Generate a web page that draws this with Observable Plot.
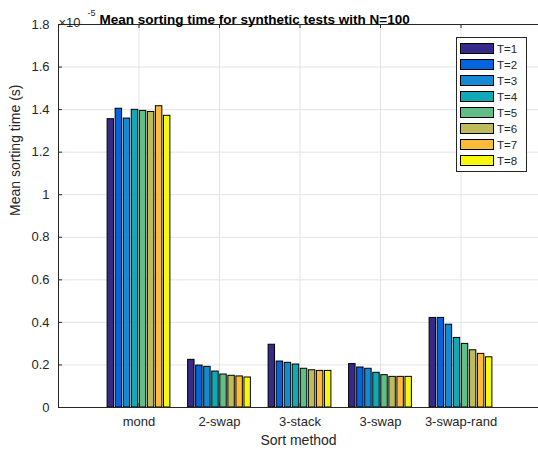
<!DOCTYPE html>
<html>
<head>
<meta charset="utf-8">
<script src="https://cdn.jsdelivr.net/npm/d3@7"></script>
<script src="https://cdn.jsdelivr.net/npm/@observablehq/plot@0.6"></script>
<style>
  html, body { margin: 0; padding: 0; background: #fff; }
  #wrap { position: relative; width: 538px; height: 452px; overflow: hidden; font-family: "Liberation Sans", Arial, sans-serif; color: #262626; }
  #legend { position: absolute; left: 456px; top: 37px; width: 71px; height: 135px; border: 1px solid #262626; background: #fff; box-sizing: border-box; }
  .row { position: absolute; left: 3px; height: 11px; display: flex; align-items: center; font-size: 11.5px; }
  .sw { width: 34px; height: 11px; border: 1px solid #000; box-sizing: border-box; margin-right: 3px; }
</style>
</head>
<body>
<div id="wrap"></div>
<script>
const categories = ["mond", "2-swap", "3-stack", "3-swap", "3-swap-rand"];
const seriesNames = ["T=1", "T=2", "T=3", "T=4", "T=5", "T=6", "T=7", "T=8"];
const seriesColors = ["#352a87", "#0364de", "#138ad3", "#10aab6", "#62be86", "#bdbb5b", "#fdbb3c", "#f8f80f"];
// values in units of 1e-5 s, one array per sort method (T=1..T=8)
const mond     = [1.355, 1.404, 1.358, 1.399, 1.394, 1.389, 1.416, 1.371];
const swap2    = [0.224, 0.197, 0.191, 0.169, 0.155, 0.149, 0.146, 0.141];
const stack3   = [0.295, 0.216, 0.210, 0.202, 0.182, 0.175, 0.172, 0.172];
const swap3    = [0.204, 0.188, 0.182, 0.163, 0.152, 0.144, 0.144, 0.144];
const swapRand = [0.421, 0.421, 0.389, 0.327, 0.299, 0.269, 0.252, 0.236];
const yTicks = [0, 0.2, 0.4, 0.6, 0.8, 1, 1.2, 1.4, 1.6, 1.8];
const xTicks = [1, 2, 3, 4, 5];
const titleText = "Mean sorting time for synthetic tests with N=100";

const groups = [mond, swap2, stack3, swap3, swapRand];
const data = [];
groups.forEach((vals, g) => vals.forEach((v, t) => data.push({g, t, v, color: seriesColors[t]})));
const step = 0.1, bw = 0.08;
const cx = d => d.g + 1 + (d.t - 3.5) * step;

const ink = "#262626";
const grid = "#e3e3e3";
const W = 538, H = 452, mL = 58, mT = 24, mB = 45;
const unitPx = 80.5;
const xMax = (W - mL) / unitPx;
const tickLenX = 4 / unitPx;
const tickLenY = 4 / ((H - mT - mB) / 1.8);

const chart = Plot.plot({
  width: W, height: H,
  marginLeft: mL, marginRight: 0, marginTop: mT, marginBottom: mB,
  style: {fontFamily: '"Liberation Sans", Arial, sans-serif', fontSize: "13px", color: ink, background: "#fff", overflow: "visible"},
  x: {type: "linear", domain: [0, xMax], axis: null},
  y: {domain: [0, 1.8], axis: null},
  marks: [
    Plot.gridY(yTicks, {stroke: grid, strokeOpacity: 1}),
    Plot.gridX(xTicks, {stroke: grid, strokeOpacity: 1}),
    Plot.rect(data, {x1: d => cx(d) - bw / 2, x2: d => cx(d) + bw / 2, y1: 0, y2: "v", fill: "color", stroke: "#000", strokeWidth: 1}),
    Plot.ruleX([0], {stroke: ink}),
    Plot.ruleY([0], {stroke: ink}),
    Plot.ruleY([1.8], {stroke: ink}),
    Plot.ruleY(yTicks, {y: d => d, x1: 0, x2: tickLenX, stroke: ink}),
    Plot.ruleX(xTicks, {x: d => d, y1: 0, y2: tickLenY, stroke: ink}),
    Plot.ruleX(xTicks, {x: d => d, y1: 1.8, y2: 1.8 - tickLenY, stroke: ink}),
    Plot.axisY(yTicks, {anchor: "left", tickSize: 0, tickPadding: 9, label: null, tickFormat: d => String(+d.toFixed(1)), fill: ink, fontSize: 13}),
    Plot.axisX(xTicks, {anchor: "bottom", tickSize: 0, tickPadding: 9, label: null, tickFormat: d => categories[d - 1], fill: ink, fontSize: 13}),
    Plot.text(["Sort method"], {frameAnchor: "bottom", dy: 37, fill: ink, fontSize: 14}),
    Plot.text(["Mean sorting time (s)"], {frameAnchor: "left", dx: -42.5, rotate: -90, fill: ink, fontSize: 14}),
    Plot.text(["\u00d710"], {frameAnchor: "top-left", textAnchor: "start", dx: 0, dy: -6.5, fill: ink, fontSize: 13}),
    Plot.text(["-5"], {frameAnchor: "top-left", textAnchor: "start", dx: 29, dy: -15.2, fill: ink, fontSize: 9}),
    Plot.text([titleText], {frameAnchor: "top-left", textAnchor: "start", dx: 41, dy: -10.2, fill: "#000", fontWeight: "bold", fontSize: 13.5})
  ]
});
const wrap = document.getElementById("wrap");
wrap.appendChild(chart);

const legend = document.createElement("div");
legend.id = "legend";
seriesNames.forEach((name, i) => {
  const row = document.createElement("div");
  row.className = "row";
  row.style.top = (5 + i * 16) + "px";
  const sw = document.createElement("div");
  sw.className = "sw";
  sw.style.background = seriesColors[i];
  row.appendChild(sw);
  const lab = document.createElement("span");
  lab.textContent = name;
  row.appendChild(lab);
  legend.appendChild(row);
});
wrap.appendChild(legend);
</script>
</body>
</html>
